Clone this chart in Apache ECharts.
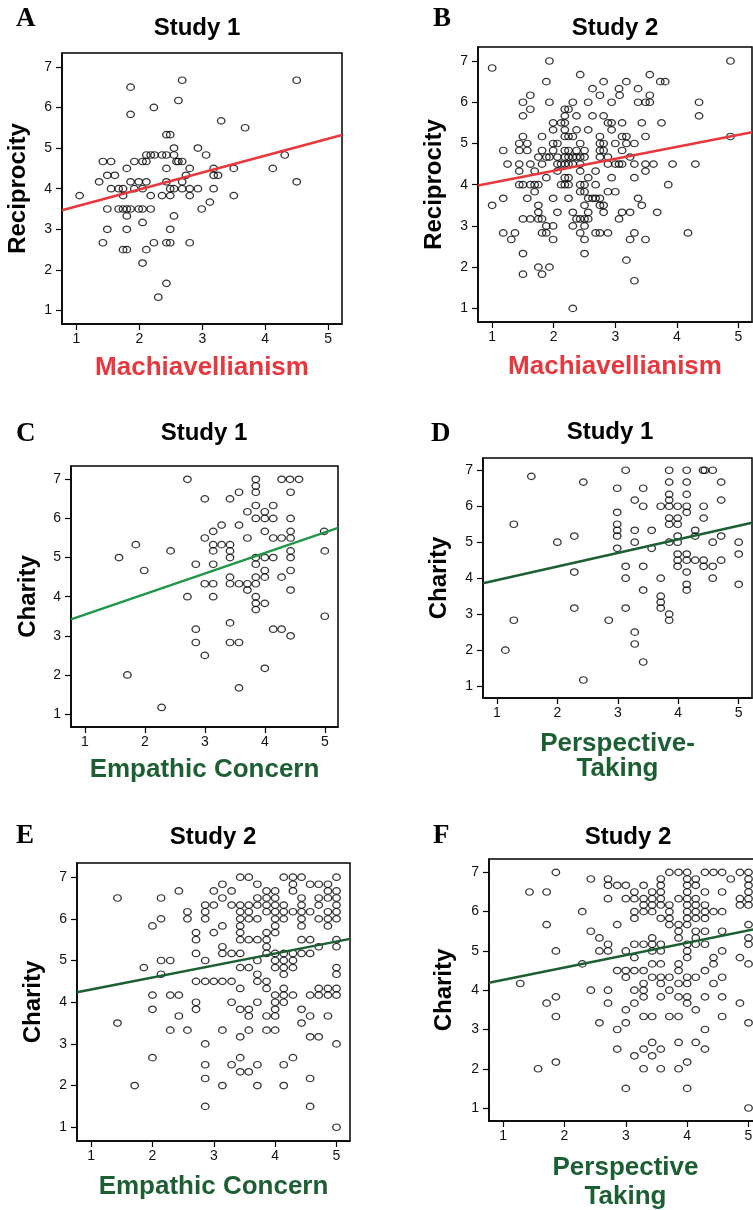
<!DOCTYPE html>
<html>
<head>
<meta charset="utf-8">
<script src="https://cdn.jsdelivr.net/npm/echarts@6/dist/echarts.min.js"></script>
<style>
  html, body { margin: 0; padding: 0; background: #fff; }
  #main { width: 753px; height: 1210px; }
</style>
</head>
<body>
<div id="main"></div>
<script>
// each row: [y, x1, x2, ...]
var rowsA = [
  [6.67, 2.68, 4.50], [6.5, 1.86], [6.17, 2.62], [6.0, 2.23], [5.83, 1.86],
  [5.67, 3.30], [5.5, 3.68], [5.33, 2.43, 2.49], [5.0, 2.55, 2.93],
  [4.83, 2.11, 2.18, 2.24, 2.36, 2.43, 2.55, 3.06, 4.31],
  [4.67, 1.42, 1.55, 1.92, 2.05, 2.11, 2.59, 2.62, 2.68],
  [4.5, 1.80, 2.43, 2.80, 3.18, 3.50, 4.12],
  [4.33, 1.49, 1.61, 2.74, 3.18, 3.25],
  [4.17, 1.36, 1.86, 1.99, 2.11, 2.43, 2.68, 4.50],
  [4.0, 1.55, 1.67, 1.74, 1.92, 2.05, 2.49, 2.55, 2.68, 2.80, 2.93, 3.18],
  [3.83, 1.05, 1.74, 2.18, 2.36, 2.49, 2.80, 3.50],
  [3.67, 3.12],
  [3.5, 1.49, 1.67, 1.74, 1.80, 1.86, 1.99, 2.05, 2.18, 2.99],
  [3.33, 1.80, 2.55], [3.17, 2.05], [3.0, 1.49, 1.80, 2.49],
  [2.67, 1.42, 2.23, 2.43, 2.49, 2.80], [2.5, 1.74, 1.80, 2.11],
  [2.17, 2.05], [1.67, 2.43], [1.33, 2.30]
];
var rowsB = [
  [7.0, 1.93, 4.87], [6.83, 1.00], [6.67, 2.43, 3.56],
  [6.5, 1.88, 2.81, 3.18, 3.73, 3.81], [6.33, 2.63, 3.06, 3.37],
  [6.17, 1.62, 2.75, 3.07, 3.56],
  [6.0, 1.50, 1.93, 2.31, 2.56, 2.94, 3.37, 3.49, 3.56, 4.36],
  [5.83, 1.62, 2.18, 2.24],
  [5.67, 1.50, 2.18, 2.37, 2.63, 2.81, 4.36],
  [5.5, 1.99, 2.12, 2.18, 2.88, 2.94, 3.11, 3.43, 3.75],
  [5.33, 1.99, 2.18, 2.37, 2.56, 2.94],
  [5.17, 1.50, 1.81, 2.18, 2.24, 2.31, 2.75, 3.11, 3.18, 3.49, 4.87],
  [5.0, 1.44, 1.57, 1.99, 2.06, 2.43, 2.75, 2.81, 3.0, 3.18, 3.31],
  [4.83, 1.18, 1.44, 1.57, 1.81, 1.99, 2.18, 2.24, 2.37, 2.50, 2.75, 2.81, 3.11],
  [4.67, 1.75, 1.88, 1.93, 2.06, 2.18, 2.24, 2.31, 2.37, 2.43, 2.50, 2.75, 2.88, 3.24],
  [4.5, 1.25, 1.44, 1.62, 1.81, 2.06, 2.12, 2.18, 2.24, 2.31, 2.43, 2.88, 3.0, 3.06, 3.11, 3.31, 3.49, 3.62, 3.93, 4.30],
  [4.33, 1.44, 1.69, 2.06, 2.43, 2.68, 3.49],
  [4.17, 1.88, 2.18, 2.24, 2.56, 2.94, 3.31],
  [4.0, 1.44, 1.50, 1.62, 1.69, 1.75, 2.12, 2.18, 2.24, 2.43, 2.50, 2.68, 3.86],
  [3.83, 1.69, 2.43, 2.50, 2.88, 3.0],
  [3.67, 1.18, 1.57, 1.99, 2.24, 2.56, 2.63, 2.68, 2.75, 3.37],
  [3.5, 1.00, 1.75, 2.50, 2.75, 2.81, 3.43],
  [3.33, 1.75, 2.06, 2.31, 2.56, 2.81, 3.11, 3.24, 3.68],
  [3.17, 1.50, 1.62, 1.75, 1.81, 2.37, 2.43, 2.50, 2.56, 3.06],
  [3.0, 1.88, 1.99, 2.31, 2.50],
  [2.83, 1.18, 1.37, 1.81, 1.88, 2.43, 2.68, 2.75, 2.88, 3.31, 4.18],
  [2.67, 1.31, 1.99, 2.50, 3.24, 3.49], [2.33, 1.50, 2.50], [2.17, 3.18],
  [2.0, 1.75, 1.93], [1.83, 1.50, 1.81], [1.67, 3.31], [1.0, 2.31]
];
var rowsC = [
  [7.0, 2.71, 3.85, 4.28, 4.42, 4.57], [6.83, 3.85], [6.67, 3.57, 3.85, 4.43],
  [6.5, 3.0, 3.42], [6.33, 3.85, 4.14], [6.17, 3.71, 4.0],
  [6.0, 3.85, 4.0, 4.14, 4.43], [5.83, 3.28, 3.57],
  [5.67, 3.14, 4.0, 4.43, 4.99], [5.5, 3.0, 3.71, 4.14, 4.28, 4.43],
  [5.33, 1.85, 3.14, 3.28, 3.42], [5.17, 2.43, 3.14, 3.42, 4.43, 5.0],
  [5.0, 1.57, 3.42, 3.85, 4.0, 4.14, 4.43], [4.83, 2.85, 3.14, 3.85],
  [4.67, 1.99, 4.0, 4.43], [4.5, 3.42, 3.85, 4.0, 4.28],
  [4.33, 3.0, 3.14, 3.42, 3.57, 3.71, 3.85], [4.17, 3.71, 4.43],
  [4.0, 2.71, 3.14, 3.85], [3.83, 3.85, 4.0], [3.67, 3.85], [3.5, 5.0],
  [3.33, 3.42], [3.17, 2.85, 4.14, 4.28], [3.0, 4.43],
  [2.83, 2.85, 3.42, 3.57], [2.5, 3.0], [2.17, 4.0], [2.0, 1.71],
  [1.67, 3.57], [1.17, 2.28]
];
var rowsD = [
  [7.0, 3.13, 3.85, 4.14, 4.41, 4.44, 4.57], [6.83, 1.57],
  [6.67, 2.43, 3.85, 4.14, 4.71], [6.5, 2.99, 3.42], [6.33, 3.85, 4.14],
  [6.17, 3.28, 3.85, 4.71], [6.0, 3.42, 3.71, 3.85, 3.99, 4.14, 4.42],
  [5.83, 2.99, 4.14], [5.67, 3.85, 3.99, 4.42], [5.5, 1.28, 2.99, 3.85, 3.99],
  [5.33, 2.99, 3.28, 3.56, 4.28], [5.17, 2.28, 2.99, 3.99, 4.28, 4.71],
  [5.0, 2.0, 3.28, 3.85, 3.99, 4.57, 5.0], [4.83, 2.99, 3.56],
  [4.67, 3.99, 4.14, 5.0], [4.5, 3.99, 4.14, 4.28, 4.42, 4.71],
  [4.33, 3.13, 3.42, 3.99, 4.42, 4.57], [4.17, 2.28, 4.14],
  [4.0, 3.13, 3.71, 4.57], [3.83, 4.14, 5.0], [3.67, 3.42, 4.14],
  [3.5, 3.71], [3.33, 3.71], [3.17, 2.28, 3.13, 3.71], [3.0, 3.85],
  [2.83, 1.28, 2.85, 3.85], [2.5, 3.28], [2.17, 3.28], [2.0, 1.14],
  [1.67, 3.42], [1.17, 2.43]
];
var rowsE = [
  [7.0, 3.43, 3.57, 4.14, 4.29, 4.43, 5.0],
  [6.83, 3.14, 3.71, 4.29, 4.57, 4.71, 4.86],
  [6.67, 2.43, 3.0, 3.29, 3.86, 4.0, 4.29, 4.86, 5.0],
  [6.5, 1.43, 2.14, 3.14, 3.71, 3.86, 4.0, 4.43, 4.71, 4.86, 5.0],
  [6.33, 2.86, 3.0, 3.29, 3.43, 3.57, 3.71, 3.86, 4.0, 4.14, 4.43, 4.71, 5.0],
  [6.17, 2.57, 2.86, 3.43, 3.57, 3.86, 4.0, 4.14, 4.29, 4.43, 4.57, 4.86, 5.0],
  [6.0, 2.14, 2.57, 2.86, 3.43, 3.57, 3.71, 4.0, 4.14, 4.43, 4.71, 4.86, 5.0],
  [5.83, 2.0, 3.14, 3.43, 4.0, 4.43, 4.86],
  [5.67, 2.71, 3.0, 3.43, 3.86, 4.0],
  [5.5, 2.71, 3.43, 3.57, 3.71, 3.86, 4.43, 4.57, 5.0],
  [5.33, 3.14, 3.86, 4.71, 5.0],
  [5.17, 2.71, 3.14, 3.29, 3.43, 3.86, 4.0, 4.14, 4.29, 4.43, 4.57],
  [5.0, 2.14, 2.29, 2.86, 3.71, 4.0, 4.14, 4.29],
  [4.83, 1.86, 3.43, 3.57, 4.0, 4.14, 4.29, 5.0],
  [4.67, 2.14, 3.71, 4.14, 5.0],
  [4.5, 2.71, 2.86, 3.0, 3.14, 3.29, 3.71, 3.86],
  [4.33, 3.43, 3.86, 4.14, 4.71, 4.86, 5.0],
  [4.17, 2.0, 2.29, 2.43, 4.0, 4.14, 4.29, 4.57, 4.71, 4.86, 5.0],
  [4.0, 2.71, 3.29, 3.71, 4.0, 4.14],
  [3.83, 2.0, 2.71, 3.43, 3.57, 4.0, 4.43],
  [3.67, 2.43, 3.57, 3.86, 4.0, 4.57, 4.86],
  [3.5, 1.43, 4.43],
  [3.33, 2.29, 2.57, 3.14, 3.57, 3.86, 4.0],
  [3.17, 3.43, 4.57, 4.71], [3.0, 2.86, 5.0],
  [2.67, 2.0, 3.43, 4.29], [2.5, 2.86, 3.29, 3.71, 4.14],
  [2.33, 3.43, 3.57], [2.17, 2.86, 4.57], [2.0, 1.71, 3.14, 3.71, 4.14],
  [1.5, 2.86, 4.57], [1.0, 5.0]
];
var rowsF = [
  [7.0, 1.86, 3.71, 3.86, 4.0, 4.29, 4.43, 4.57, 4.86, 5.0],
  [6.83, 2.43, 2.71, 3.57, 4.0, 4.14, 4.71, 5.0],
  [6.67, 2.71, 2.86, 3.0, 3.29, 3.57, 4.0, 4.14, 5.0],
  [6.5, 1.43, 1.71, 3.14, 3.43, 3.57, 4.0, 4.29, 4.57, 5.0],
  [6.33, 2.71, 3.0, 3.14, 3.29, 3.43, 3.57, 3.86, 4.0, 4.14, 4.86, 5.0],
  [6.17, 3.29, 3.43, 3.57, 3.71, 4.0, 4.14, 4.29, 4.86, 5.0],
  [6.0, 2.29, 3.14, 3.29, 3.43, 3.71, 4.0, 4.14, 4.29, 4.43, 4.57],
  [5.83, 3.14, 3.57, 3.71, 4.0, 4.14, 4.29],
  [5.67, 1.71, 2.86, 3.71, 3.86, 4.0, 5.0],
  [5.5, 2.43, 3.86, 4.14, 4.29, 4.57],
  [5.33, 2.57, 3.43, 3.86, 4.14, 5.0],
  [5.17, 2.71, 3.14, 3.29, 3.43, 3.57, 4.0, 4.14, 4.29, 5.0],
  [5.0, 1.86, 2.57, 2.71, 3.0, 3.43, 3.57, 4.0, 4.57],
  [4.83, 3.14, 4.0, 4.43, 4.86],
  [4.67, 2.29, 3.43, 3.57, 3.86, 4.43, 5.0],
  [4.5, 2.86, 3.0, 3.14, 3.29, 3.86, 4.29],
  [4.33, 3.0, 3.43, 3.57, 3.71, 4.0, 4.14, 4.57],
  [4.17, 1.28, 3.29, 3.57, 3.86, 4.0, 4.43],
  [4.0, 2.43, 2.71, 3.14, 3.29, 3.71],
  [3.83, 1.86, 3.29, 3.57, 3.86, 4.0, 4.29, 4.57],
  [3.67, 1.71, 2.71, 3.14, 4.0, 4.86],
  [3.5, 3.0, 4.14],
  [3.33, 1.86, 3.29, 3.43, 3.71, 3.86, 4.57],
  [3.17, 2.57, 3.0, 5.0], [3.0, 2.86, 4.29],
  [2.67, 3.43, 3.86, 4.14], [2.5, 2.86, 3.29, 3.57, 4.29],
  [2.33, 3.14, 3.43], [2.17, 1.86, 4.0], [2.0, 1.57, 3.29, 3.57, 3.86],
  [1.5, 3.0, 4.0], [1.0, 5.0]
];

// fitted regression lines, endpoints at the axis edges
var fitA = [[0.77, 3.47], [5.22, 5.32]];
var fitB = [[0.77, 3.98], [5.22, 5.27]];
var fitC = [[0.77, 3.42], [5.22, 5.76]];
var fitD = [[0.77, 3.86], [5.22, 5.54]];
var fitE = [[0.77, 4.24], [5.22, 5.52]];
var fitF = [[0.77, 4.19], [5.22, 5.59]];

var xTicks = [1, 2, 3, 4, 5];
var yTicks = [1, 2, 3, 4, 5, 6, 7];
var letters = ['A', 'B', 'C', 'D', 'E', 'F'];
var studies = ['Study 1', 'Study 2', 'Study 1', 'Study 1', 'Study 2', 'Study 2'];
var xNames = ['Machiavellianism', 'Machiavellianism', 'Empathic Concern',
              'Perspective-\nTaking', 'Empathic Concern', 'Perspective\nTaking'];
var yNames = ['Reciprocity', 'Reciprocity', 'Charity', 'Charity', 'Charity', 'Charity'];

var RED = '#e8383d', GREEN = '#1f9747', DKGREEN = '#1b5f33';
var SANS = '"Liberation Sans", Arial, sans-serif';

var rows = [rowsA, rowsB, rowsC, rowsD, rowsE, rowsF];
var fits = [fitA, fitB, fitC, fitD, fitE, fitF];

// layout
var grids = [
  {left: 62, top: 53, width: 280, height: 271},
  {left: 478, top: 47, width: 274, height: 275},
  {left: 71, top: 466, width: 267, height: 261},
  {left: 483, top: 458, width: 269, height: 240},
  {left: 77, top: 863, width: 273, height: 278},
  {left: 489, top: 859, width: 273, height: 262}
];
var lineColors = [RED, RED, GREEN, DKGREEN, DKGREEN, DKGREEN];
var nameColors = [RED, RED, DKGREEN, DKGREEN, DKGREEN, DKGREEN];
var xGaps = [31, 32, 30, 33, 33, 32];
var xLineH = [26, 26, 26, 25, 26, 29];
var yGaps = [32, 32, 31, 32, 32, 33];
var letterPos = [[16, 20], [433, 20], [16, 435], [431, 435], [16, 837], [433, 837]];
var titlePos = [[197, 28], [615, 28], [204, 433], [610, 432], [213, 837], [628, 837]];

function toPoints(r) {
  var out = [];
  r.forEach(function (row) {
    for (var k = 1; k < row.length; k++) out.push([row[k], row[0]]);
  });
  return out;
}

var myChart = echarts.init(document.getElementById('main'));

var option = {
  animation: false,
  backgroundColor: '#fff',
  grid: [], xAxis: [], yAxis: [], series: [], graphic: []
};

for (var i = 0; i < 6; i++) {
  var g = grids[i];
  option.grid.push({
    left: g.left, top: g.top, width: g.width, height: g.height,
    show: true, borderColor: '#000', borderWidth: 1.5,
    containLabel: false, outerBoundsMode: 'none'
  });
  option.xAxis.push({
    type: 'value', gridIndex: i, min: 0.77, max: 5.22,
    name: xNames[i], nameLocation: 'middle', nameGap: xGaps[i],
    nameTextStyle: {color: nameColors[i], fontSize: 26, fontWeight: 'bold',
                    fontFamily: SANS, lineHeight: xLineH[i]},
    axisLine: {show: true, onZero: false, lineStyle: {color: '#000', width: 1.5}},
    axisTick: {show: true, length: 6, customValues: xTicks, lineStyle: {color: '#000', width: 1.2}},
    axisLabel: {customValues: xTicks, margin: 8, color: '#111', fontSize: 14, fontFamily: SANS},
    splitLine: {show: false}
  });
  option.yAxis.push({
    type: 'value', gridIndex: i, min: 0.67, max: 7.34,
    name: yNames[i], nameLocation: 'middle', nameGap: yGaps[i],
    nameTextStyle: {color: '#000', fontSize: 24, fontWeight: 'bold', fontFamily: SANS},
    axisLine: {show: true, onZero: false, lineStyle: {color: '#000', width: 1.5}},
    axisTick: {show: true, length: 6, customValues: yTicks, lineStyle: {color: '#000', width: 1.2}},
    axisLabel: {customValues: yTicks, margin: 10, color: '#111', fontSize: 14, fontFamily: SANS},
    splitLine: {show: false}
  });
  option.series.push({
    type: 'scatter', xAxisIndex: i, yAxisIndex: i, silent: true,
    symbol: 'circle', symbolSize: [7.5, 6.5],
    itemStyle: {color: 'rgba(255,255,255,0)', borderColor: '#000', borderWidth: 1.25},
    data: toPoints(rows[i]), z: 2
  });
  option.series.push({
    type: 'line', xAxisIndex: i, yAxisIndex: i, silent: true,
    showSymbol: false, symbol: 'none',
    lineStyle: {color: lineColors[i], width: 2.5},
    data: fits[i], z: 3
  });
  option.graphic.push({
    type: 'text', left: letterPos[i][0], top: letterPos[i][1] - 14,
    style: {text: letters[i], font: 'bold 27px "Liberation Serif", "Times New Roman", serif', fill: '#000'}
  });
  option.graphic.push({
    type: 'text', x: titlePos[i][0], y: titlePos[i][1],
    style: {text: studies[i], font: 'bold 24px ' + SANS, fill: '#000',
            textAlign: 'center', textVerticalAlign: 'middle'}
  });
}

myChart.setOption(option);
</script>
</body>
</html>
